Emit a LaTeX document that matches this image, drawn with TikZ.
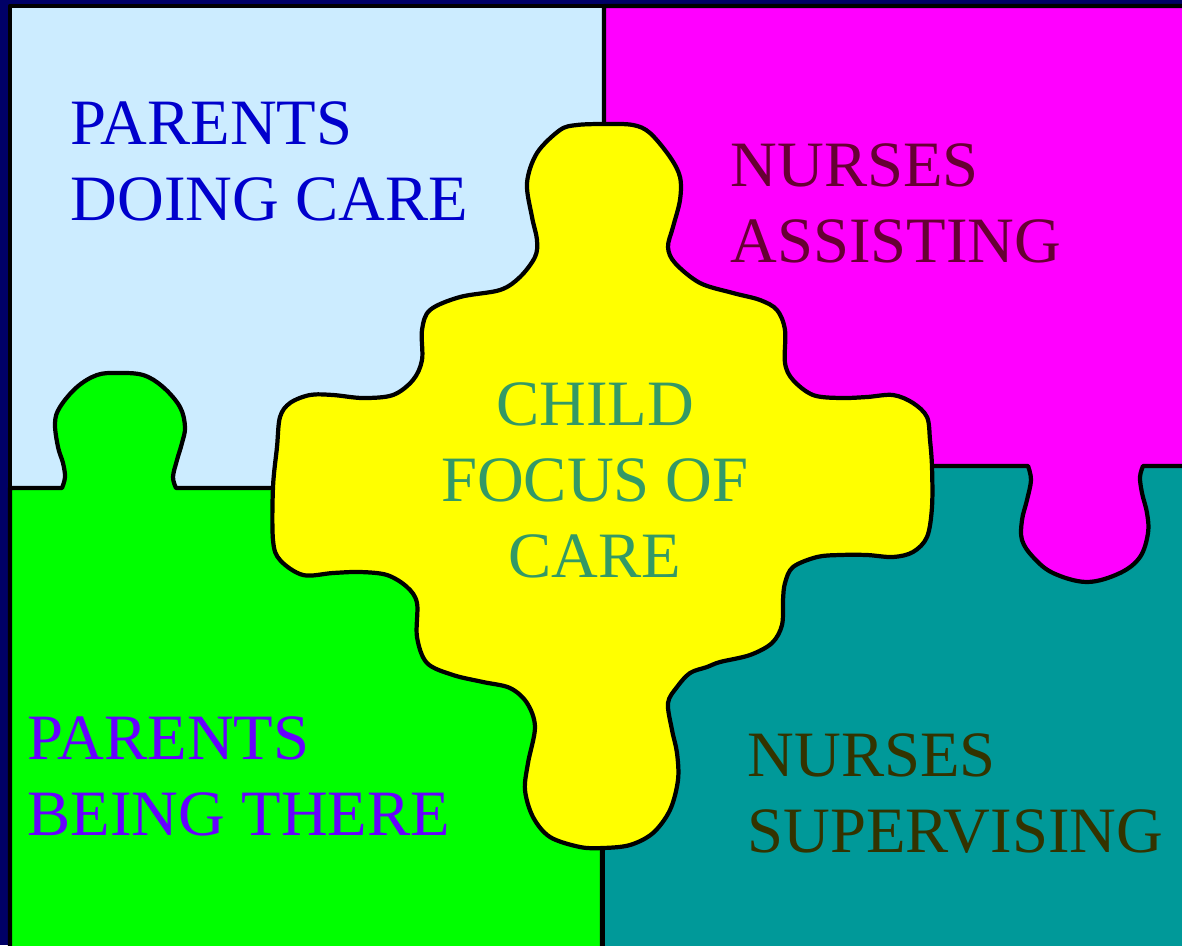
\documentclass[tikz,border=0pt]{standalone}
\usepackage{fontspec}
\setmainfont{Liberation Serif}
\usetikzlibrary{calc}
\definecolor{navybg}{HTML}{000066}
\definecolor{skyblue}{HTML}{CCECFF}
\definecolor{pinkish}{HTML}{FF00FF}
\definecolor{limegreen}{HTML}{00FF00}
\definecolor{tealish}{HTML}{009999}
\definecolor{yellowish}{HTML}{FFFF00}
\definecolor{txtblue}{HTML}{0000CC}
\definecolor{txtmaroon}{HTML}{660033}
\definecolor{txtgreen}{HTML}{339966}
\definecolor{txtviolet}{HTML}{6600FF}
\definecolor{txtolive}{HTML}{333300}

\begin{document}
\begin{tikzpicture}[x=0.01cm, y=-0.01cm, piece/.style={draw=black,line width=1.2pt,line join=round}, label/.style={anchor=base west,align=left,inner sep=0pt,font=\fontsize{18.4}{21.5}\selectfont}]

 \useasboundingbox (0,0) rectangle (1182,945);
 \clip (0,0) rectangle (1182,945);
 \fill[navybg] (0,0) rectangle (1182,945);

 % the four corner pieces
 \filldraw[piece, fill=skyblue] (10,6) rectangle (1210,960);
 \filldraw[piece, fill=tealish] (603,466) rectangle (1210,960);
 \filldraw[piece, fill=pinkish] (604,6) -- (1210,6) -- (1210,466) -- (1143,466)
   -- plot[smooth, tension=0.6] coordinates {(1143,466) (1140,477) (1142,493) (1147,513) (1148,533) (1140,557) (1120,573) (1087,582) (1053,573) (1033,557) (1022,540) (1022,520) (1027,500) (1031,480) (1028,466)}
   -- (604,466) -- cycle;
 \filldraw[piece, fill=limegreen] (10,488) -- (62,488)
   -- plot[smooth, tension=0.6] coordinates {(62,488) (65,477) (63,463) (58,447) (55,423) (60,407) (77,387) (97,375) (117,373) (143,375) (163,387) (180,407) (185,427) (182,443) (177,460) (173,477) (176,488)}
   -- (602,488) -- (602,960) -- (10,960) -- cycle;

 % the child in the middle
 \filldraw[piece, fill=yellowish] plot[smooth cycle, tension=0.55] coordinates {
   (605,124) (633,125) (650,133) (670,157) (680,177) (680,200) (673,227) (668,247) (675,263)
   (700,283) (733,293) (760,300) (777,310) (785,330) (785,363) (793,380) (813,395) (840,398)
   (867,397) (893,395) (913,403) (927,417) (930,440) (932,467) (932,507) (927,537) (913,552)
   (893,557) (867,555) (840,555) (817,557) (793,567) (785,583) (783,600) (782,625) (772,643)
   (750,655) (720,662) (707,667) (690,673) (677,687) (668,703) (672,730) (677,753) (678,780)
   (670,810) (653,833) (630,845) (603,848) (580,847) (550,837) (533,817) (525,790) (528,763)
   (535,727) (527,703) (510,688) (483,682) (453,675) (427,663) (417,637) (417,603) (407,587)
   (387,575) (360,572) (333,573) (303,575) (280,560) (273,540) (273,487) (277,447) (280,417)
   (290,403) (310,395) (333,395) (363,398) (393,395) (413,380) (422,360) (422,330) (430,310)
   (460,297) (500,290) (520,277) (535,257) (537,240) (532,217) (527,183) (537,153) (560,130) (577,125)};

 \node[label, text=txtblue] (pdc) at (70,220) {PARENTS\\DOING CARE};
 \node[label, text=txtmaroon] (nas) at (730,262) {NURSES\\ASSISTING};
 \node[label, anchor=base, align=center, text=txtgreen] (cfc) at (595,577) {CHILD\\FOCUS OF\\CARE};
 \node[label, text=txtviolet] (pbt) at (27,835) {PARENTS\\BEING THERE};
 \node[label, text=txtolive] (nsu) at (747,852) {NURSES\\SUPERVISING};
\end{tikzpicture}
\end{document}
